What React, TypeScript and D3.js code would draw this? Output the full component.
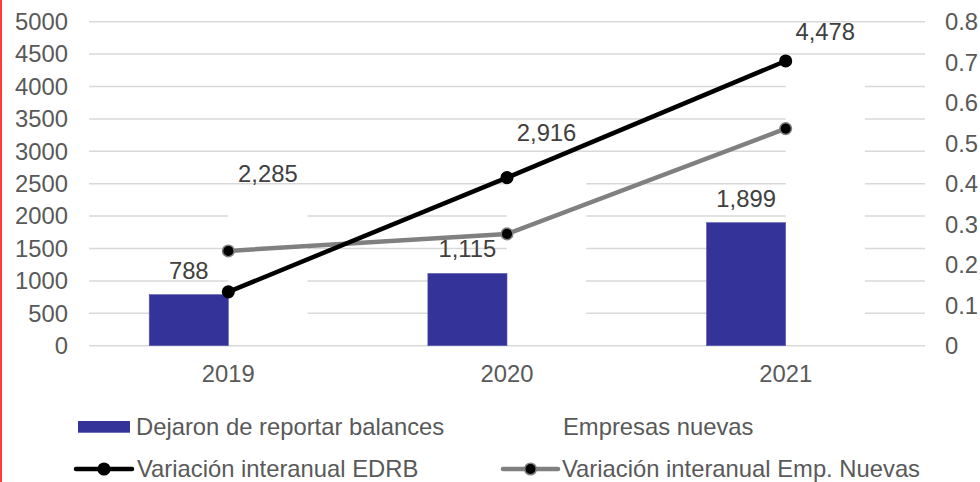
import React, { useEffect, useRef } from 'react';
import * as d3 from 'd3';

const years = ['2019', '2020', '2021'];
const dejaron = [788, 1115, 1899];
const nuevas = [2285, 2916, 4478];
const varEDRB = [0.133, 0.415, 0.703];
const varNuevas = [0.234, 0.276, 0.536];
const leftTicks = [0, 500, 1000, 1500, 2000, 2500, 3000, 3500, 4000, 4500, 5000];
const rightTicks = [0, 0.1, 0.2, 0.3, 0.4, 0.5, 0.6, 0.7, 0.8];

const FONT = '"Liberation Sans", Arial, sans-serif';
const FS = '23.8px';

const App = () => {
  const svgRef = useRef(null);

  useEffect(() => {
    const W = 980;
    const H = 482;
    const margin = { top: 21.7, right: 55, bottom: 136.3, left: 89 };

    const root = d3.select(svgRef.current);
    root.selectAll('*').remove();
    root.attr('width', W).attr('height', H);

    const svg = root.append('g');

    // scales
    const x0 = d3.scaleBand().domain(years).range([margin.left, W - margin.right]);
    const bw = x0.bandwidth();
    const xSub = d3.scaleBand().domain(['a', 'b']).range([bw * 0.216, bw * 0.784]);
    const yL = d3.scaleLinear().domain([0, 5000]).range([H - margin.bottom, margin.top]);
    const yR = d3.scaleLinear().domain([0, 0.8]).range([H - margin.bottom, margin.top]);
    const cx = (i) => x0(years[i]) + bw / 2;

    // red edge at left
    svg.append('rect').attr('x', 0).attr('y', 0).attr('width', 2).attr('height', H).attr('fill', '#ff3b3b');

    // grid
    svg
      .append('g')
      .selectAll('line')
      .data(leftTicks)
      .enter()
      .append('line')
      .attr('x1', margin.left)
      .attr('x2', W - margin.right)
      .attr('y1', (d) => yL(d))
      .attr('y2', (d) => yL(d))
      .attr('stroke', '#d9d9d9')
      .attr('stroke-width', 1.5);

    // left axis labels
    svg
      .append('g')
      .selectAll('text')
      .data(leftTicks)
      .enter()
      .append('text')
      .attr('x', 68)
      .attr('y', (d) => yL(d))
      .attr('dy', '0.35em')
      .attr('text-anchor', 'end')
      .attr('fill', '#595959')
      .style('font', `${FS} ${FONT}`)
      .text((d) => d);

    // right axis labels
    svg
      .append('g')
      .selectAll('text')
      .data(rightTicks)
      .enter()
      .append('text')
      .attr('x', 945)
      .attr('y', (d) => yR(d))
      .attr('dy', '0.35em')
      .attr('fill', '#595959')
      .style('font', `${FS} ${FONT}`)
      .text((d) => d);

    // x labels
    svg
      .append('g')
      .selectAll('text')
      .data(years)
      .enter()
      .append('text')
      .attr('x', (d) => x0(d) + bw / 2)
      .attr('y', yL(0) + 36)
      .attr('text-anchor', 'middle')
      .attr('fill', '#595959')
      .style('font', `${FS} ${FONT}`)
      .text((d) => d);

    // Empresas nuevas bars (white, hide the grid)
    svg
      .append('g')
      .selectAll('rect')
      .data(nuevas)
      .enter()
      .append('rect')
      .attr('x', (d, i) => x0(years[i]) + xSub('b'))
      .attr('y', (d) => yL(d))
      .attr('width', xSub.bandwidth())
      .attr('height', (d) => yL(0) - yL(d) - 1)
      .attr('fill', '#ffffff');

    // Dejaron bars
    svg
      .append('g')
      .selectAll('rect')
      .data(dejaron)
      .enter()
      .append('rect')
      .attr('x', (d, i) => x0(years[i]) + xSub('a'))
      .attr('y', (d) => yL(d))
      .attr('width', xSub.bandwidth())
      .attr('height', (d) => yL(0) - yL(d))
      .attr('fill', '#333399')
      .attr('stroke', '#5a5ab0')
      .attr('stroke-width', 0.6);

    const fmt = d3.format(',');

    // bar value labels
    svg
      .append('g')
      .selectAll('text')
      .data(dejaron)
      .enter()
      .append('text')
      .attr('x', (d, i) => x0(years[i]) + xSub('a') + xSub.bandwidth() / 2)
      .attr('y', (d) => yL(d) - 16)
      .attr('text-anchor', 'middle')
      .attr('fill', '#404040')
      .style('font', `${FS} ${FONT}`)
      .text((d) => fmt(d));

    svg
      .append('g')
      .selectAll('text')
      .data(nuevas)
      .enter()
      .append('text')
      .attr('x', (d, i) => x0(years[i]) + xSub('b') + xSub.bandwidth() / 2)
      .attr('y', (d) => yL(d) - 16)
      .attr('text-anchor', 'middle')
      .attr('fill', '#404040')
      .style('font', `${FS} ${FONT}`)
      .text((d) => fmt(d));

    // lines
    const line = d3
      .line()
      .x((d, i) => cx(i))
      .y((d) => yR(d));

    const series = [
      { data: varNuevas, color: '#808080', marker: '#000000' },
      { data: varEDRB, color: '#000000', marker: '#000000' },
    ];

    series.forEach((s) => {
      svg
        .append('path')
        .datum(s.data)
        .attr('fill', 'none')
        .attr('stroke', s.color)
        .attr('stroke-width', 4.5)
        .attr('stroke-linejoin', 'round')
        .attr('d', line);

      svg
        .append('g')
        .selectAll('circle')
        .data(s.data)
        .enter()
        .append('circle')
        .attr('cx', (d, i) => cx(i))
        .attr('cy', (d) => yR(d))
        .attr('r', 5.8)
        .attr('fill', s.marker)
        .attr('stroke', s.color)
        .attr('stroke-width', 1.5);
    });

    // legend
    const leg = svg.append('g').style('font', `${FS} ${FONT}`).attr('fill', '#595959');

    leg.append('rect').attr('x', 78).attr('y', 421).attr('width', 52).attr('height', 11.7).attr('fill', '#333399');
    leg.append('text').attr('x', 136).attr('y', 435).text('Dejaron de reportar balances');

    leg.append('rect').attr('x', 505).attr('y', 421).attr('width', 52).attr('height', 11.7).attr('fill', '#ffffff');
    leg.append('text').attr('x', 563).attr('y', 435).text('Empresas nuevas');

    const legLines = [
      { x1: 76, x2: 132, color: '#000000', label: 'Variación interanual EDRB', tx: 137 },
      { x1: 503, x2: 558, color: '#808080', label: 'Variación interanual Emp. Nuevas', tx: 562 },
    ];
    legLines.forEach((l) => {
      leg
        .append('line')
        .attr('x1', l.x1)
        .attr('x2', l.x2)
        .attr('y1', 469)
        .attr('y2', 469)
        .attr('stroke', l.color)
        .attr('stroke-width', 4.5)
        .attr('stroke-linecap', 'round');
      leg
        .append('circle')
        .attr('cx', (l.x1 + l.x2) / 2)
        .attr('cy', 469)
        .attr('r', 5.8)
        .attr('fill', '#000000')
        .attr('stroke', l.color)
        .attr('stroke-width', 1.5);
      leg.append('text').attr('x', l.tx).attr('y', 477).text(l.label);
    });
  }, []);

  return (
    <div style={{ position: 'absolute', left: 0, top: 0, background: '#fff' }}>
      <svg ref={svgRef} style={{ display: 'block' }}></svg>
    </div>
  );
};

export default App;
